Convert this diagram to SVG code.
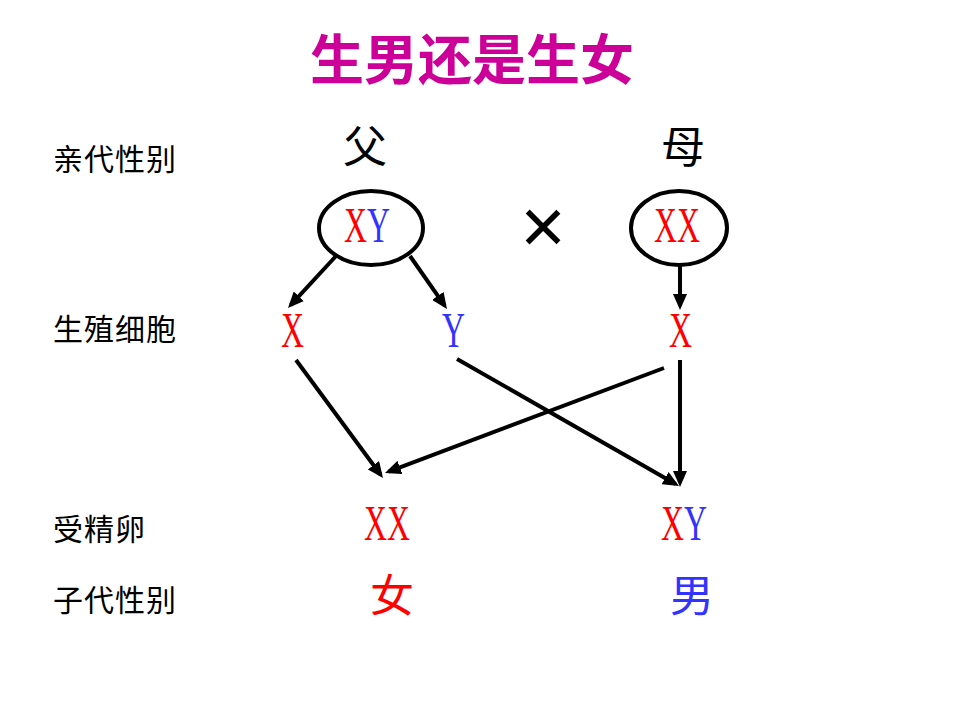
<svg xmlns="http://www.w3.org/2000/svg" width="960" height="720" viewBox="0 0 960 720">
<style>
.lbl{font-family:"Noto Sans CJK SC","Liberation Sans",sans-serif;font-size:30px;fill:#000}
.par{font-family:"Noto Sans CJK SC","Liberation Sans",sans-serif;font-size:44px;fill:#000;text-anchor:middle}
.chr{font-family:"Liberation Serif",serif;font-size:51px}
.r{fill:#FF0000}
.b{fill:#3333FF}
.ln{stroke:#000;stroke-width:4;fill:none;marker-end:url(#ah)}
.ell{fill:none;stroke:#000;stroke-width:4}
</style>
<defs>
<marker id="ah" markerUnits="userSpaceOnUse" viewBox="0 0 16 14" markerWidth="16" markerHeight="14" refX="12" refY="7" orient="auto">
<path d="M0,0 L16,7 L0,14 z" fill="#000"/>
</marker>
</defs>
<rect width="960" height="720" fill="#fff"/>
<text x="472" y="80" font-family="Noto Sans CJK SC,sans-serif" font-size="54" font-weight="bold" fill="#CC0099" text-anchor="middle">生男还是生女</text>
<g id="labels">
<text class="lbl" x="53" y="170" letter-spacing="1">亲代性别</text>
<text class="lbl" x="53" y="340" letter-spacing="1">生殖细胞</text>
<text class="lbl" x="53" y="540" letter-spacing="1">受精卵</text>
<text class="lbl" x="53" y="611" letter-spacing="1">子代性别</text>
</g>
<g id="father">
<text class="par" x="365" y="163">父</text>
<ellipse class="ell" cx="371" cy="228" rx="52" ry="37"/>
<text class="chr" x="344" y="242" textLength="46" lengthAdjust="spacingAndGlyphs"><tspan class="r">X</tspan><tspan class="b">Y</tspan></text>
</g>
<g id="cross">
<text x="543" y="253" font-family="Liberation Sans,sans-serif" font-size="78" fill="#000" text-anchor="middle">×</text>
</g>
<g id="mother">
<text class="par" x="683" y="163">母</text>
<ellipse class="ell" cx="679" cy="228" rx="48" ry="37"/>
<text class="chr r" x="654" y="242" textLength="46" lengthAdjust="spacingAndGlyphs">XX</text>
</g>
<g id="gamete-x-father">
<text class="chr r" x="281" y="347" textLength="23" lengthAdjust="spacingAndGlyphs">X</text>
</g>
<g id="gamete-y-father">
<text class="chr b" x="442" y="347" textLength="23" lengthAdjust="spacingAndGlyphs">Y</text>
</g>
<g id="gamete-x-mother">
<text class="chr r" x="669" y="347" textLength="23" lengthAdjust="spacingAndGlyphs">X</text>
</g>
<g id="zygote-xx">
<text class="chr r" x="364" y="540" textLength="46" lengthAdjust="spacingAndGlyphs">XX</text>
</g>
<g id="zygote-xy">
<text class="chr" x="661" y="540" textLength="46" lengthAdjust="spacingAndGlyphs"><tspan class="r">X</tspan><tspan class="b">Y</tspan></text>
</g>
<g id="offspring-female">
<text class="par r" x="392" y="612">女</text>
</g>
<g id="offspring-male">
<text class="par b" x="692" y="612">男</text>
</g>
<g id="connectors">
<line class="ln" x1="336" y1="256" x2="290.7" y2="305.1"/>
<line class="ln" x1="410" y1="256" x2="444.7" y2="305.7"/>
<line class="ln" x1="680" y1="265" x2="680" y2="306"/>
<line class="ln" x1="296" y1="360" x2="380.6" y2="474.8"/>
<line class="ln" x1="664" y1="368" x2="388.7" y2="471.6"/>
<line class="ln" x1="457" y1="359" x2="675.5" y2="484"/>
<line class="ln" x1="680" y1="360" x2="680" y2="483"/>
</g>
</svg>
